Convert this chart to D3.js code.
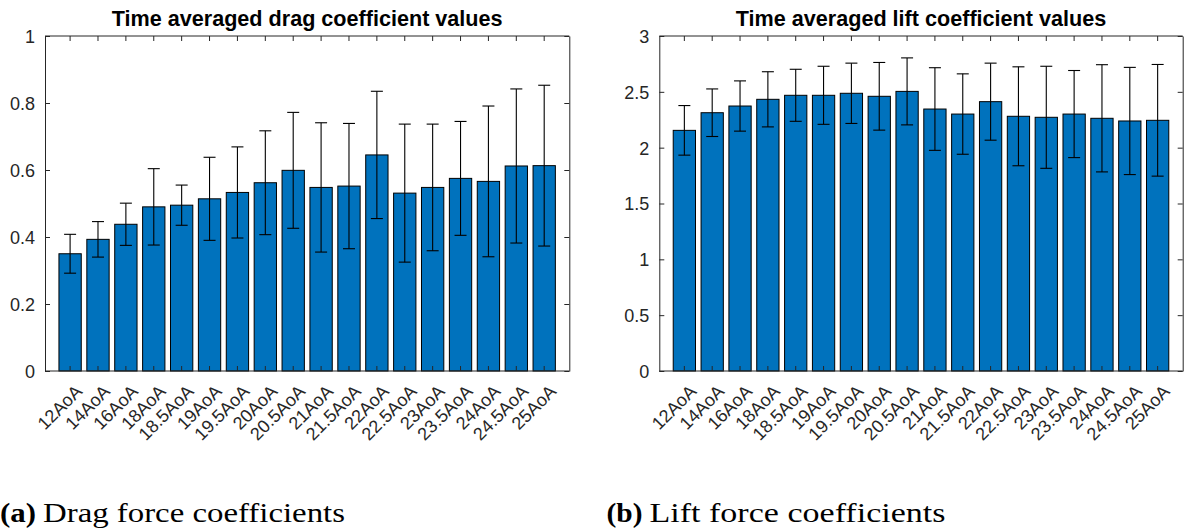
<!DOCTYPE html>
<html>
<head>
<meta charset="utf-8">
<script src="https://cdn.jsdelivr.net/npm/d3@7"></script>
<style>
  html, body { margin: 0; padding: 0; background: #fff; }
  svg { display: block; }
</style>
</head>
<body>
<svg id="fig" width="1184" height="530"></svg>
<script>
// Angle-of-attack cases shared by both panels
const categories = ["12AoA", "14AoA", "16AoA", "18AoA", "18.5AoA", "19AoA", "19.5AoA", "20AoA",
  "20.5AoA", "21AoA", "21.5AoA", "22AoA", "22.5AoA", "23AoA", "23.5AoA", "24AoA", "24.5AoA", "25AoA"];

// Time averaged drag coefficient and its standard deviation
const dragMean = [0.350, 0.393, 0.438, 0.490, 0.495, 0.514, 0.533, 0.562, 0.599,
  0.548, 0.552, 0.645, 0.531, 0.548, 0.575, 0.566, 0.612, 0.613];
const dragStd = [0.058, 0.053, 0.063, 0.114, 0.060, 0.124, 0.136, 0.155, 0.173,
  0.193, 0.187, 0.190, 0.206, 0.189, 0.170, 0.225, 0.230, 0.240];

// Time averaged lift coefficient and its standard deviation
const liftMean = [2.155, 2.313, 2.373, 2.433, 2.469, 2.469, 2.487, 2.460, 2.504,
  2.346, 2.301, 2.412, 2.281, 2.272, 2.301, 2.263, 2.239, 2.245];
const liftStd = [0.222, 0.213, 0.225, 0.247, 0.233, 0.260, 0.270, 0.303, 0.300,
  0.370, 0.360, 0.345, 0.443, 0.457, 0.390, 0.480, 0.480, 0.500];

const dragTicks = [0, 0.2, 0.4, 0.6, 0.8, 1];
const liftTicks = [0, 0.5, 1, 1.5, 2, 2.5, 3];

const titles = ["Time averaged drag coefficient values", "Time averaged lift coefficient values"];
const captionTags = ["(a)", "(b)"];
const captionTexts = ["Drag force coefficients", "Lift force coefficients"];

const svg = d3.select("#fig");
const axisColor = "#262626";
const barColor = "#0072BD";
const sansFont = "'Liberation Sans', Arial, Helvetica, sans-serif";
const serifFont = "'Liberation Serif', 'Times New Roman', serif";
const plotTop = 36, plotBottom = 371;

function panel(opts) {
  const g = svg.append("g");
  const x = d3.scaleBand()
    .domain(categories)
    .range([opts.left, opts.right])
    .paddingInner(0.2)
    .paddingOuter(0.5);
  const y = d3.scaleLinear().domain(opts.yDomain).range([plotBottom, plotTop]);
  const cx = d => x(d) + x.bandwidth() / 2;

  // bars
  g.append("g").selectAll("rect")
    .data(categories)
    .join("rect")
    .attr("x", d => x(d))
    .attr("width", x.bandwidth())
    .attr("y", (d, i) => y(opts.mean[i]))
    .attr("height", (d, i) => y(0) - y(opts.mean[i]))
    .attr("fill", barColor)
    .attr("stroke", "#000")
    .attr("stroke-width", 1);

  // error bars (mean ± std)
  const eb = g.append("g").attr("stroke", "#000").attr("stroke-width", 1.1).attr("fill", "none");
  const capHalf = 6;
  categories.forEach((c, i) => {
    const hi = y(opts.mean[i] + opts.std[i]);
    const lo = y(opts.mean[i] - opts.std[i]);
    eb.append("line").attr("x1", cx(c)).attr("x2", cx(c)).attr("y1", hi).attr("y2", lo);
    eb.append("line").attr("x1", cx(c) - capHalf).attr("x2", cx(c) + capHalf).attr("y1", hi).attr("y2", hi);
    eb.append("line").attr("x1", cx(c) - capHalf).attr("x2", cx(c) + capHalf).attr("y1", lo).attr("y2", lo);
  });

  const styleAxis = sel => {
    sel.selectAll("path, line").attr("stroke", axisColor).attr("stroke-width", 1);
    sel.selectAll("text").attr("fill", axisColor)
      .attr("font-family", sansFont)
      .attr("font-size", 18);
  };

  // left axis with labels
  g.append("g").attr("transform", `translate(${opts.left},0)`)
    .call(d3.axisLeft(y).tickValues(opts.ticks).tickFormat(d3.format("~g"))
      .tickSizeInner(-5).tickSizeOuter(0).tickPadding(10))
    .call(styleAxis)
    .call(s => s.selectAll("text").attr("dy", "0.36em"));

  // right axis, ticks only
  g.append("g").attr("transform", `translate(${opts.right},0)`)
    .call(d3.axisRight(y).tickValues(opts.ticks).tickFormat("")
      .tickSizeInner(-5).tickSizeOuter(0))
    .call(styleAxis);

  // top axis, ticks only
  g.append("g").attr("transform", `translate(0,${plotTop})`)
    .call(d3.axisTop(x).tickFormat("").tickSizeInner(-5).tickSizeOuter(0))
    .call(styleAxis)
    .call(s => s.select(".domain").attr("d", `M${opts.left},0H${opts.right}`));

  // bottom axis with rotated category labels
  g.append("g").attr("transform", `translate(0,${plotBottom})`)
    .call(d3.axisBottom(x).tickSizeInner(-5).tickSizeOuter(0))
    .call(styleAxis)
    .call(s => s.select(".domain").attr("d", `M${opts.left},0H${opts.right}`))
    .call(s => s.selectAll(".tick text")
      .attr("x", 0).attr("y", 0).attr("dy", "0.36em")
      .attr("text-anchor", "end")
      .attr("transform", "translate(8.5,17) rotate(-45)"));

  // title
  g.append("text")
    .attr("x", (opts.left + opts.right) / 2)
    .attr("y", 26)
    .attr("text-anchor", "middle")
    .attr("font-family", sansFont)
    .attr("font-weight", "bold")
    .attr("font-size", 21.6)
    .attr("fill", "#000")
    .text(opts.title);

  // caption below the panel
  const cap = svg.append("g").attr("font-family", serifFont)
    .attr("font-size", 28).attr("fill", "#000");
  cap.append("text").attr("x", opts.capX).attr("y", 522).attr("font-weight", "bold")
    .attr("textLength", 36).attr("lengthAdjust", "spacingAndGlyphs")
    .text(opts.tag);
  cap.append("text").attr("x", opts.capX + 43).attr("y", 522)
    .attr("textLength", opts.capLen).attr("lengthAdjust", "spacingAndGlyphs")
    .text(opts.caption);
}

panel({
  left: 45, right: 569.3, yDomain: [0, 1], ticks: dragTicks,
  mean: dragMean, std: dragStd, title: titles[0],
  capX: 0, capLen: 302, tag: captionTags[0], caption: captionTexts[0]
});
panel({
  left: 659.3, right: 1182.7, yDomain: [0, 3], ticks: liftTicks,
  mean: liftMean, std: liftStd, title: titles[1],
  capX: 606.5, capLen: 296, tag: captionTags[1], caption: captionTexts[1]
});
</script>
</body>
</html>
